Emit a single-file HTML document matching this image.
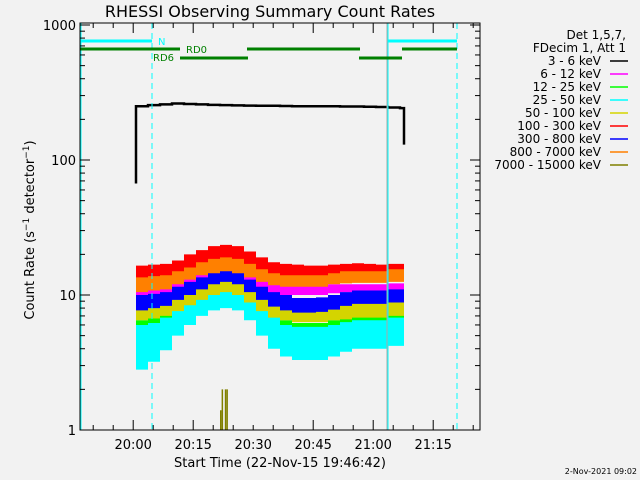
<!DOCTYPE html>
<html><head><meta charset="utf-8"><style>
html,body{margin:0;padding:0;background:#f2f2f2;}
svg{display:block;font-family:"DejaVu Sans","Liberation Sans",sans-serif;}
</style></head><body>
<svg id="c" width="640" height="480" viewBox="0 0 640 480">
<rect x="0" y="0" width="640" height="480" fill="#f2f2f2"/>
<text x="270" y="17" font-size="16" text-anchor="middle" fill="#000">RHESSI Observing Summary Count Rates</text>
<text transform="translate(34,230) rotate(-90)" font-size="13" text-anchor="middle" fill="#000">Count Rate (s<tspan baseline-shift="super" font-size="9">−1</tspan> detector<tspan baseline-shift="super" font-size="9">−1</tspan>)</text>
<text x="280" y="467" font-size="13" text-anchor="middle" fill="#000">Start Time (22-Nov-15 19:46:42)</text>
<text x="637" y="474" font-size="8" text-anchor="end" fill="#000">2-Nov-2021 09:02</text>
<g id="plot"></g>
<g id="legend"></g>
</svg>
<script>
const times=[14,17,20,23,26,29,32,35,38,41,44,47,50,53,56,59,62,65,68,71,74,77,80];
const redHi=[16.5,16.8,17,18,20,21.5,23,23.5,23,21,19,17.5,17,16.8,16.5,16.5,16.8,17,17.2,17,16.8,17,17];
const redLo=[12.5,12.8,13,14,15,16.5,17.5,18,17.5,16,14.5,13.5,13,12.8,12.8,12.8,13,13,13.2,13,13,13.2,13.2];
const orangeHi=[13.5,13.8,14,15,16,17.5,18.5,19,18.5,17,15.5,14.5,14,14,14,14,14.5,15,15,15,15,15.5,15.5];
const orangeLo=[10.5,10.8,11,12,13,14,14.5,15,14.5,13.5,12.5,11.8,11.5,11.5,11.5,11.5,12,12.2,12.3,12.3,12.3,12.5,12.5];
const magentaHi=[11,11.2,11.5,12.5,13.5,14.5,15.5,16,15.5,14,12.8,12,11.8,11.8,11.8,11.8,12,12,12,12,12,12.2,12.2];
const magentaLo=[9.5,9.7,10,11,11.8,12.8,13.5,14,13.5,12.3,11,10.3,10,10,10,10,10.3,10.5,10.5,10.5,10.5,10.6,10.6];
const blueHi=[10,10.2,10.5,11.5,12.5,13.5,15,15.5,15,13,11.5,10.5,10,9.5,9.5,9.6,10,10.5,10.8,10.8,10.8,11,11];
const blueLo=[7.7,8,8.3,9.2,10,11,12,12.5,12,10.5,9.2,8.2,7.7,7.4,7.4,7.5,7.8,8.3,8.6,8.6,8.6,8.8,8.8];
const yellowHi=[8.4,8.6,8.8,9.5,10.5,11.5,12.5,13,12.5,11,9.7,8.8,8.4,8.2,8.2,8.2,8.4,8.6,8.8,8.8,8.8,9,9];
const yellowLo=[6.5,6.7,7,7.6,8.4,9.2,10,10.5,10,8.8,7.6,6.8,6.5,6.3,6.3,6.3,6.5,6.6,6.8,6.8,6.8,7,7];
const greenHi=[6.5,6.8,7.2,8,9,10.5,11.5,12,11.5,10,8.5,7.5,6.5,6.2,6.2,6.2,6.5,6.8,7,7,7,7.2,7.2];
const greenLo=[3.6,3.9,4.5,5.5,6.5,7.7,8.4,8.8,8.4,7.2,5.8,4.8,4.2,4,4,4,4.2,4.6,4.8,4.8,4.8,5,5];
const cyanHi=[6,6.2,6.8,7.7,8.8,10,11,11.5,11,9.5,8,7,6,5.8,5.8,5.8,6,6.3,6.5,6.5,6.5,6.8,6.8];
const cyanLo=[2.8,3.2,3.9,5,6,7,7.7,8,7.7,6.5,5,4,3.5,3.3,3.3,3.3,3.5,3.8,4,4,4,4.2,4.2];
const blackV=[250,255,258,262,260,258,256,255,254,253,252,252,251,250,250,250,250,249,249,248,247,245,242];
const blackStart=67;
const blackEnd=130;
const dataEnd=81;
const oliveT=[35,35.4,36.2,36.6];
const oliveV=[1.4,2,2,2];
const xTickLabels=["20:00","20:15","20:30","20:45","21:00","21:15"];
const xTickMinutes=[13.3,28.3,43.3,58.3,73.3,88.3];
const yTickValues=[1,10,100,1000];
const legendLabels=["3 - 6 keV","6 - 12 keV","12 - 25 keV","25 - 50 keV","50 - 100 keV","100 - 300 keV","300 - 800 keV","800 - 7000 keV","7000 - 15000 keV"];
const legendColors=["#000","#ff00ff","#00ff00","#00ffff","#d4d400","#ff0000","#0000ff","#ff8000","#808000"];

const X0=80,X1=480,Y0=23,Y1=430;
const xs=t=>X0+t*4;
const ys=v=>Y1-Math.log10(v)*135;
const NS="http://www.w3.org/2000/svg";
const plot=document.getElementById('plot');
function mk(tag,attrs,parent){const e=document.createElementNS(NS,tag);for(const k in attrs)e.setAttribute(k,attrs[k]);(parent||plot).appendChild(e);return e;}

function band(hi,lo,color,name){
  let d="";
  for(let i=0;i<times.length;i++){
    const xa=xs(times[i]),xb=xs(i<times.length-1?times[i+1]:dataEnd);
    d+=(i===0?"M":"L")+xa+","+ys(hi[i])+"L"+xb+","+ys(hi[i]);
  }
  for(let i=times.length-1;i>=0;i--){
    const xa=xs(times[i]),xb=xs(i<times.length-1?times[i+1]:dataEnd);
    d+="L"+xb+","+ys(lo[i])+"L"+xa+","+ys(lo[i]);
  }
  const p=mk('path',{d:d+"Z",fill:color});
  
  
}
band(magentaHi,magentaLo,"#ff00ff","series-6-12kev");
band(greenHi,greenLo,"#00ff00","series-12-25kev");
band(cyanHi,cyanLo,"#00ffff","series-25-50kev");
band(yellowHi,yellowLo,"#d4d400","series-50-100kev");
band(redHi,redLo,"#ff0000","series-100-300kev");
band(blueHi,blueLo,"#0000ff","series-300-800kev");
band(orangeHi,orangeLo,"#ff8000","series-800-7000kev");

let bd="M"+xs(times[0])+","+ys(blackStart);
for(let i=0;i<times.length;i++){
  const xb=xs(i<times.length-1?times[i+1]:dataEnd);
  bd+="L"+xs(times[i])+","+ys(blackV[i])+"L"+xb+","+ys(blackV[i]);
}
bd+="L"+xs(dataEnd)+","+ys(blackEnd);
const bl=mk('path',{d:bd,fill:"none",stroke:"#000","stroke-width":2.5});



for(let i=0;i<oliveT.length;i++){
  const r=mk('rect',{x:xs(oliveT[i]),y:ys(oliveV[i]),width:1.5,height:Y1-ys(oliveV[i]),fill:"#808000"});
  
  
}

const vl=(x,c,dash,n)=>{const l=mk('line',{x1:x,x2:x,y1:Y0,y2:Y1,stroke:c,"stroke-width":1,"stroke-dasharray":dash||"none"});};
vl(81,"#00ffff",null,"night-end-line");
vl(152,"#00ffff","6,4","night-dashed-line");
vl(387,"#aaaaaa",null,"saa-line");
vl(388,"#00ffff",null,"night-start-line");
vl(457,"#00ffff","6,4","night-dashed-line-2");

const hb=(x1,x2,y,c,n)=>{const l=mk('line',{x1:x1,x2:x2,y1:y,y2:y,stroke:c,"stroke-width":3});};
hb(80,152,41,"#00ffff","night-bar");hb(388,457,41,"#00ffff","night-bar-2");
hb(80,180,49,"#008000","rd0-bar");hb(247,360,49,"#008000","rd0-bar-2");hb(402,457,49,"#008000","rd0-bar-3");
hb(180,248,58,"#008000","rd6-bar");hb(359,402,58,"#008000","rd6-bar-2");
const tx=(x,y,s,c,n)=>{const t=mk('text',{x:x,y:y,"font-size":10,fill:c});t.textContent=s;};
tx(158,45,"N","#00ffff","night-label");tx(186,53,"RD0","#008000","rd0-label");tx(153,61,"RD6","#008000","rd6-label");

const fr=mk('rect',{x:X0,y:Y0,width:X1-X0,height:Y1-Y0,fill:"none",stroke:"#000","stroke-width":1});



for(const v of yTickValues){
  const y=ys(v);
  mk('line',{x1:X0,x2:X0+10,y1:y,y2:y,stroke:"#000"});mk('line',{x1:X1-10,x2:X1,y1:y,y2:y,stroke:"#000"});
  const t=mk('text',{x:X0-4,y:y+5,"font-size":13,"text-anchor":"end",fill:"#000"});t.textContent=v;
  
  
  if(v<1000)for(let m=2;m<10;m++){const ym=ys(v*m);mk('line',{x1:X0,x2:X0+5,y1:ym,y2:ym,stroke:"#000"});mk('line',{x1:X1-5,x2:X1,y1:ym,y2:ym,stroke:"#000"});}
}
for(let m=3.3;m<100;m+=5){
  const x=xs(m);const major=Math.abs(((m-13.3)%15+15)%15)<0.01;const L=major?10:5;
  mk('line',{x1:x,x2:x,y1:Y1,y2:Y1-L,stroke:"#000"});mk('line',{x1:x,x2:x,y1:Y0,y2:Y0+L,stroke:"#000"});
}
xTickLabels.forEach((s,i)=>{const t=mk('text',{x:xs(xTickMinutes[i]),y:449,"font-size":13,"text-anchor":"middle",fill:"#000"});t.textContent=s;});

const lg=document.getElementById('legend');
const h1=mk('text',{x:626,y:39,"font-size":12,"text-anchor":"end",fill:"#000"},lg);h1.textContent="Det 1,5,7,";

const h2=mk('text',{x:626,y:52,"font-size":12,"text-anchor":"end",fill:"#000"},lg);h2.textContent="FDecim 1, Att 1";

legendLabels.forEach((s,i)=>{
  const y=61+i*13;
  const t=mk('text',{x:601,y:y+4,"font-size":12,"text-anchor":"end",fill:"#000"},lg);t.textContent=s;
  
  
  const l=mk('line',{x1:610,x2:628,y1:y,y2:y,stroke:legendColors[i],"stroke-width":1.5},lg);
  
  
});
</script>
</body></html>
